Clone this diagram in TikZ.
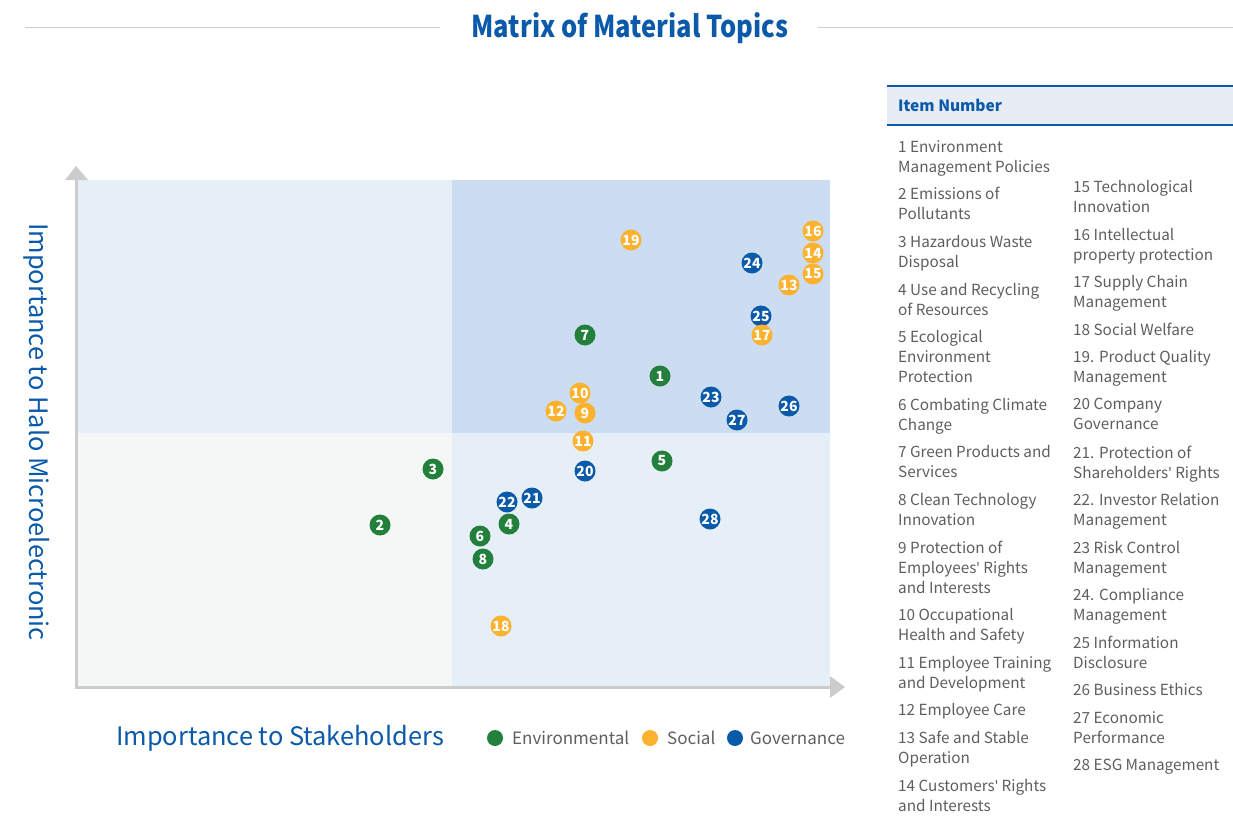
\documentclass[tikz,border=0pt]{standalone}
\usepackage{fontspec}
\setmainfont{Noto Sans CJK SC}
\newfontfamily\apfont{Noto Sans}
\usetikzlibrary{positioning}
\definecolor{tblue}{HTML}{0B5AAA}
\definecolor{tgreen}{HTML}{23803C}
\definecolor{torange}{HTML}{FDB22F}
\definecolor{axisgray}{HTML}{CCCCCC}
\definecolor{qA}{HTML}{E6EEF8}
\definecolor{qB}{HTML}{CCDDF1}
\definecolor{qC}{HTML}{F5F7F7}
\definecolor{hdr}{HTML}{E8EDF5}
\definecolor{txtgray}{HTML}{5E5E5E}
\newcommand{\apos}{{\apfont\char"0027\relax}}
\tikzset{
  dot/.style={circle,inner sep=0pt,minimum size=21pt,text=white,font=\fontsize{14}{14}\selectfont\bfseries},
  env/.style={dot,fill=tgreen},
  soc/.style={dot,fill=torange},
  gov/.style={dot,fill=tblue},
  item/.style={anchor=north west,inner sep=0pt,align=left,text=txtgray,font=\fontsize{15.3}{20}\selectfont},
  legtxt/.style={anchor=west,inner sep=0pt,text=txtgray,font=\fontsize{17}{20}\selectfont},
  legdot/.style={circle,inner sep=0pt,minimum size=16pt},
  axlabel/.style={inner sep=0pt,text=tblue,font=\fontsize{25.4}{28}\selectfont}
}
\begin{document}
\begin{tikzpicture}[x=1pt,y=-1pt]
\useasboundingbox (0,0) rectangle (1233,816);
% title
\node[inner sep=0pt,text=tblue,font=\fontsize{30}{32}\selectfont\bfseries] (title) at (630,28) {\scalebox{0.85}[1]{Matrix of Material Topics}};
\draw[axisgray,line width=1pt] (25,28) -- (440,28);
\draw[axisgray,line width=1pt] (818,28) -- (1233,28);
% quadrants
\fill[qA] (77,180) rectangle (452,433);
\fill[qB] (452,180) rectangle (830,433);
\fill[qC] (77,433) rectangle (452,686);
\fill[qA] (452,433) rectangle (830,686);
% axes
\coordinate (origin) at (76,687);
\coordinate (ytop) at (76,180);
\coordinate (xend) at (830,687);
\draw[axisgray,line width=3pt] (ytop) -- (origin) -- (xend);
\fill[axisgray] (65,180) -- (76,166) -- (88,180) -- cycle;
\fill[axisgray] (830,676) -- (845,687) -- (830,698) -- cycle;
% axis labels
\node[axlabel,rotate=-90] (ylab) at (37,432) {Importance to Halo Microelectronic};
\node[axlabel] (xlab) at (280,738) {Importance to Stakeholders};
% legend
\node[legdot,fill=tgreen] (lg1) at (495,738) {};
\node[legtxt] (lt1) at (512,738) {Environmental};
\node[legdot,fill=torange] (lg2) at (650,738) {};
\node[legtxt] (lt2) at (667,738) {Social};
\node[legdot,fill=tblue] (lg3) at (735,738) {};
\node[legtxt] (lt3) at (750,738) {Governance};
% points
\node[env] (p1) at (660,376) {1};
\node[env] (p2) at (380,525) {2};
\node[env] (p3) at (433,469) {3};
\node[env] (p4) at (509,524) {4};
\node[env] (p5) at (662,461) {5};
\node[env] (p6) at (480,536) {6};
\node[env] (p7) at (585,335) {7};
\node[env] (p8) at (483,559) {8};
\node[soc] (p10) at (580,393) {10};
\node[soc] (p9) at (585,413) {9};
\node[soc] (p11) at (583,441) {11};
\node[soc] (p12) at (556,411) {12};
\node[soc] (p13) at (789,285) {13};
\node[soc] (p16) at (813,231) {16};
\node[soc] (p14) at (813,253) {14};
\node[soc] (p15) at (813,274) {15};
\node[gov] (p25) at (761,316) {25};
\node[soc] (p17) at (762,335) {17};
\node[soc] (p18) at (501,626) {18};
\node[soc] (p19) at (631,240) {19};
\node[gov] (p20) at (585,471) {20};
\node[gov] (p21) at (532,498) {21};
\node[gov] (p22) at (507,502) {22};
\node[gov] (p23) at (711,397) {23};
\node[gov] (p24) at (752,263) {24};
\node[gov] (p26) at (789,406) {26};
\node[gov] (p27) at (737,420) {27};
\node[gov] (p28) at (710,519) {28};
% table header
\fill[hdr] (887,86) rectangle (1233,125);
\draw[tblue,line width=2pt] (887,86) -- (1233,86);
\draw[tblue,line width=1.5pt] (887,125) -- (1233,125);
\node[anchor=west,inner sep=0pt,text=tblue,font=\fontsize{15.5}{20}\selectfont\bfseries] (hdrtxt) at (898,105) {Item Number};
% column 1
\node[item] (i1) at (898,140) {1 Environment\\Management Policies};
\node[item] (i2) at (898,187) {2 Emissions of\\Pollutants};
\node[item] (i3) at (898,235) {3 Hazardous Waste\\Disposal};
\node[item] (i4) at (898,283) {4 Use and Recycling\\of Resources};
\node[item] (i5) at (898,330) {5 Ecological\\Environment\\Protection};
\node[item] (i6) at (898,398) {6 Combating Climate\\Change};
\node[item] (i7) at (898,445) {7 Green Products and\\Services};
\node[item] (i8) at (898,493) {8 Clean Technology\\Innovation};
\node[item] (i9) at (898,541) {9 Protection of\\Employees\apos{} Rights\\and Interests};
\node[item] (i10) at (898,608) {10 Occupational\\Health and Safety};
\node[item] (i11) at (898,656) {11 Employee Training\\and Development};
\node[item] (i12) at (898,703) {12 Employee Care};
\node[item] (i13) at (898,731) {13 Safe and Stable\\Operation};
\node[item] (i14) at (898,779) {14 Customers\apos{} Rights\\and Interests};
% column 2
\node[item] (i15) at (1073,180) {15 Technological\\Innovation};
\node[item] (i16) at (1073,228) {16 Intellectual\\property protection};
\node[item] (i17) at (1073,275) {17 Supply Chain\\Management};
\node[item] (i18) at (1073,323) {18 Social Welfare};
\node[item] (i19) at (1073,350) {19. Product Quality\\Management};
\node[item] (i20) at (1073,398) {20 Company\\Governance};
\node[item] (i21) at (1073,446) {21. Protection of\\Shareholders\apos{} Rights};
\node[item] (i22) at (1073,493) {22. Investor Relation\\Management};
\node[item] (i23) at (1073,541) {23 Risk Control\\Management};
\node[item] (i24) at (1073,588) {24. Compliance\\Management};
\node[item] (i25) at (1073,636) {25 Information\\Disclosure};
\node[item] (i26) at (1073,683) {26 Business Ethics};
\node[item] (i27) at (1073,711) {27 Economic\\Performance};
\node[item] (i28) at (1073,759) {28 ESG Management};
\end{tikzpicture}
\end{document}
